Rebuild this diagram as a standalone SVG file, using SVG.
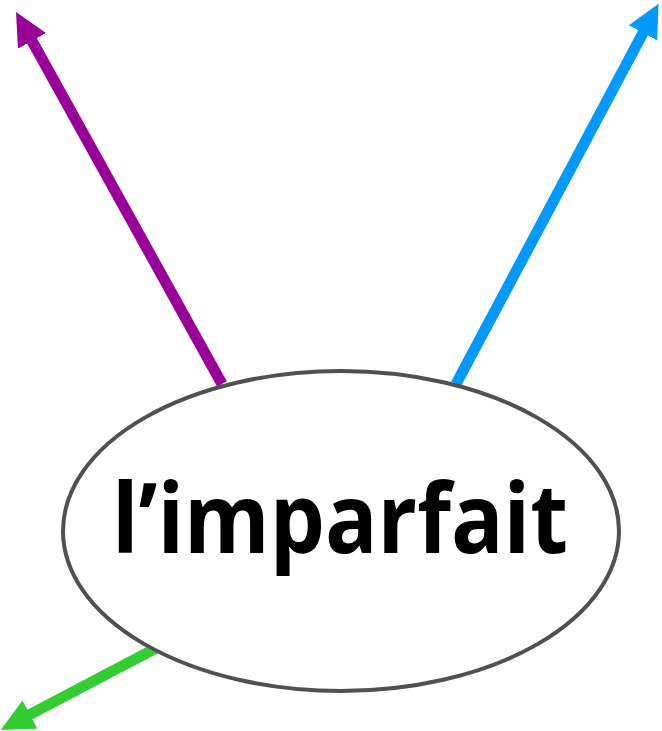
<svg xmlns="http://www.w3.org/2000/svg" width="662" height="731" viewBox="0 0 662 731">
<style>
.conn{fill:none;stroke-width:11}
.node{fill:#fff;stroke:#505050;stroke-width:4}
.lbl{font-family:"Open Sans","Liberation Sans",sans-serif;font-weight:bold;font-size:96px;fill:#000}
</style>
<defs>
<marker id="mp" markerUnits="userSpaceOnUse" markerWidth="34" markerHeight="34" viewBox="0 0 34 34" refX="1" refY="17" orient="auto"><path d="M0,1 L33,17 L0,33 Z" fill="#990099"/></marker>
<marker id="mb" markerUnits="userSpaceOnUse" markerWidth="34" markerHeight="34" viewBox="0 0 34 34" refX="1" refY="17" orient="auto"><path d="M0,1 L33,17 L0,33 Z" fill="#0099ff"/></marker>
<marker id="mg" markerUnits="userSpaceOnUse" markerWidth="34" markerHeight="34" viewBox="0 0 34 34" refX="1" refY="17" orient="auto"><path d="M0,1 L33,17 L0,33 Z" fill="#33cc33"/></marker>
</defs>
<g id="connectors">
<path class="conn" stroke="#990099" d="M222,384 L31.5,40" marker-end="url(#mp)"/>
<path class="conn" stroke="#0099ff" d="M456,384 L643.5,32" marker-end="url(#mb)"/>
<path class="conn" stroke="#33cc33" d="M162,645 L29,715" marker-end="url(#mg)"/>
</g>
<g id="node-imparfait">
<ellipse class="node" cx="341" cy="531" rx="278" ry="160"/>
<text class="lbl" x="340" y="553" text-anchor="middle" textLength="456" lengthAdjust="spacingAndGlyphs">l’imparfait</text>
</g>
</svg>
